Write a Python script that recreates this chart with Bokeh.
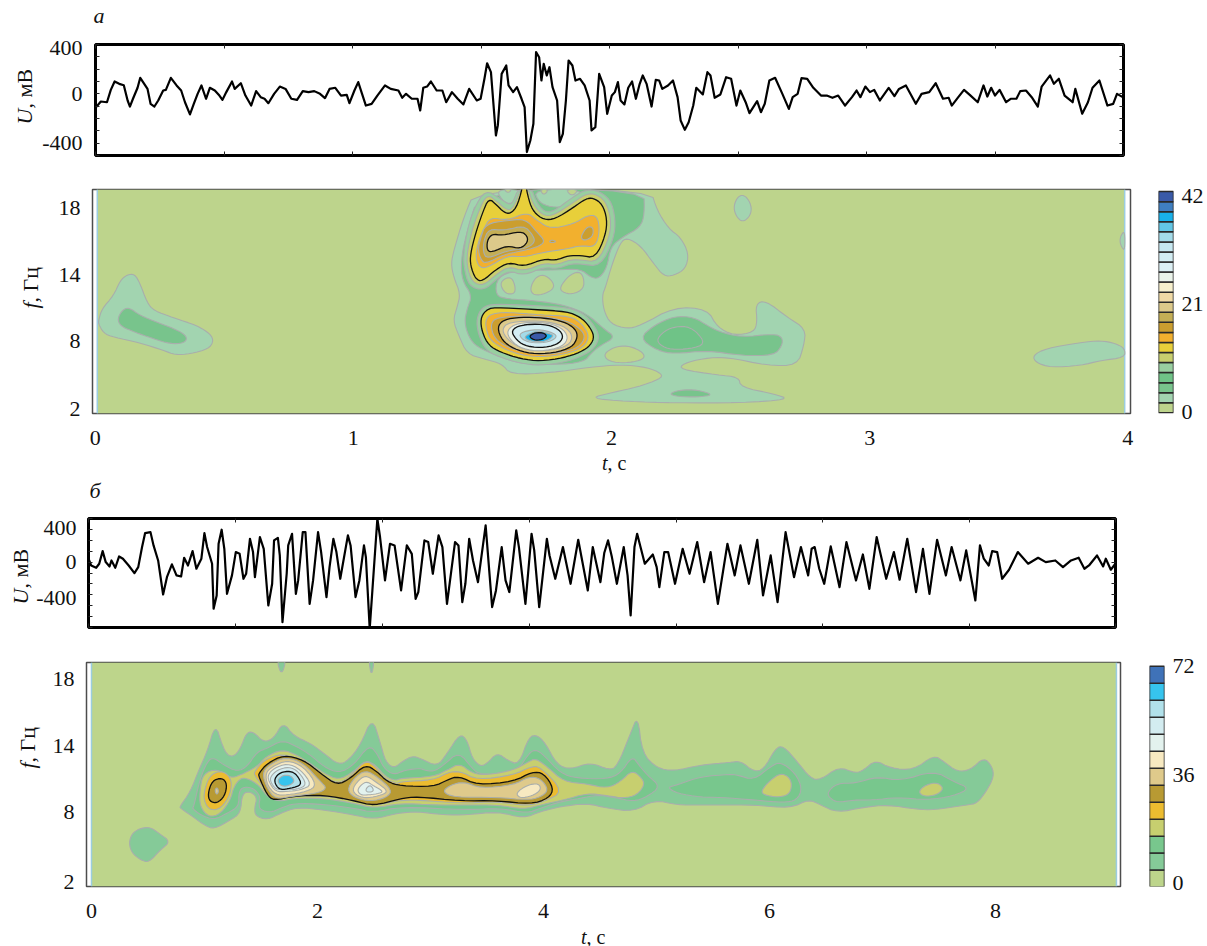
import math
from bokeh.plotting import figure
from bokeh.layouts import column, row
from bokeh.core.properties import value
from bokeh.models import ColumnDataSource, FixedTicker, LinearAxis, Range1d
from bokeh.embed import file_html
from bokeh.resources import INLINE

# ---------- trace a: recording samples (672 per second) and voltage, mV
A_SAMPLE = [0,14,30,40,50,62,74,84,90,98,110,117,130,136,144,154,164,177,184,197,212,224,234,247,257,267,277,289,299,312,324,332,342,357,364,380,392,407,420,432,442,452,467,482,497,512,527,542,557,572,587,600,612,627,642,657,664,677,687,697,707,722,737,757,772,792,802,812,827,842,849,857,867,877,892,907,917,932,947,962,977,997,1007,1017,1024,1034,1047,1052,1062,1074,1080,1092,1102,1114,1122,1128,1137,1145,1152,1160,1166,1172,1180,1187,1195,1207,1214,1222,1230,1237,1247,1255,1267,1279,1292,1297,1307,1317,
1330,1338,1350,1358,1366,1373,1383,1393,1403,1413,1423,1431,1441,1454,1465,1474,1482,1497,1510,1522,1530,1541,1551,1563,1571,1588,1600,1608,1619,1634,1649,1662,1676,1686,1700,1710,1730,1740,1750,1762,1777,1796,1813,1823,1836,1846,1861,1877,1897,1912,1927,1942,1960,1978,1990,2000,2013,2025,2036,2051,2074,2089,2101,2119,2145,2160,2180,2197,2216,2231,2239,2256,2271,2286,2307,2322,2332,2342,2352,2364,2381,2393,2408,2418,2433,2448,2464,2474,2496,2506,2519,2534,2555,2562,2580,2595,2607,2625,2646,2661,2671,2686]
A_MV = [-113,-62,-68,32,100,81,70,-54,-103,-40,49,130,68,40,-81,-103,-54,27,32,130,68,27,-68,-167,-81,0,68,-40,49,27,-14,-49,14,100,40,86,-14,-95,22,-27,-40,-76,0,59,40,-40,-49,22,14,22,0,-35,40,49,-14,-8,-76,27,95,0,-95,-81,-14,68,40,27,-32,0,-40,-40,-135,49,59,100,27,27,-68,14,-40,-86,40,-54,-40,122,248,176,-338,-256,162,230,68,14,54,-40,-108,-472,-378,-243,338,297,108,243,149,216,54,-54,-392,-324,-54,270,230,108,122,68,-54,-297,-270,162,
54,-162,-14,14,95,-54,-86,49,100,-40,81,149,81,-103,113,108,40,68,108,-27,-216,-292,-230,-95,49,-5,176,149,-32,-5,135,122,-95,27,-68,-157,-59,-149,-81,108,130,0,-122,-27,0,127,122,49,-14,-14,-32,-14,-95,-27,27,-27,59,14,32,-54,49,-19,40,68,-81,0,14,86,-40,-32,-95,-27,32,-8,-68,68,-22,49,-14,32,-68,-40,-40,22,27,-27,-103,59,149,81,122,-14,-68,40,-162,-68,49,108,-95,-81,0,-27]
A_RATE = 672

# ---------- trace b: recording samples (295.3 per second) and voltage, mV
B_SAMPLE = [0,7,20,28,37,45,55,60,70,80,90,105,120,130,140,148,162,170,182,195,205,218,230,242,250,260,272,282,295,303,310,323,327,335,340,348,355,362,375,385,395,405,412,422,430,435,448,458,470,480,485,495,500,507,518,522,532,542,548,560,567,578,587,600,608,622,630,640,648,658,678,685,698,708,720,725,735,742,755,762,775,788,800,817,832,845,855,862,878,888,900,915,925,937,945,958,967,977,985,995,1005,1018,1038,1055,1065,1080,1090,1100,1118,1125,1142,1158,1165,1178,1198,1205,1220,1240,1260,1280,1305,1318,1338,
1348,1358,1368,1381,1399,1409,1417,1427,1434,1444,1454,1475,1485,1492,1505,1515,1533,1553,1571,1591,1609,1626,1645,1670,1689,1704,1726,1748,1763,1783,1801,1822,1844,1862,1881,1890,1898,1910,1923,1940,1963,1981,2006,2024,2041,2060,2085,2105,2120,2140,2163,2181,2198,2218,2241,2256,2279,2294,2318,2330,2340,2353,2362,2375,2388,2406,2429,2456,2482,2502,2527,2547,2568,2588,2603,2615,2636,2652,2659,2672,2684]
B_MV = [31,-31,-52,-15,101,0,-40,15,-52,52,31,-31,-101,-46,138,266,275,153,15,-297,-138,-21,-122,-132,40,-31,101,-61,31,266,138,-15,-428,-306,168,297,122,-291,-122,92,76,-153,-107,214,92,-138,230,122,-398,-199,199,223,61,-551,-107,153,260,-291,-168,275,275,-383,-168,275,92,-321,-46,214,92,-153,245,153,-321,-168,153,46,-612,-260,398,230,-168,168,153,-260,153,76,-337,-275,199,184,-107,245,138,-383,-168,184,153,-367,-199,214,15,-184,337,-413,-260,138,-168,-275,291,138,-383,260,107,-413,214,61,-153,138,-199,205,-260,138,-184,
83,199,46,-199,138,-122,-490,138,260,122,-15,70,-46,-230,92,92,-199,122,-107,184,-184,92,-383,168,-122,153,-199,205,-306,61,-367,275,-138,138,-122,122,138,-61,-199,144,-230,184,-168,70,-245,230,-153,92,-162,214,-275,122,-291,205,-122,138,-168,107,-352,153,31,-31,101,92,-153,-70,92,-15,40,0,15,-46,15,40,-61,-31,61,-40,31,-70,-15]
B_RATE = 295.3

# ---------- time-frequency maps: contours as (time bin, frequency bin)
A_BINS_PER_S, A_BINS_PER_HZ = 774, 37.68
B_BINS_PER_S, B_BINS_PER_HZ = 339, 38.07

a_left_1 = [(10,264),(20,299),(55,339),(75,384),(95,401),(118,404),(135,374),(155,319),(175,294),(235,272),(305,249),(345,224),(355,202),(340,179),(285,164),(240,161),(205,174),(135,197),(55,214),(25,226),(10,254)]
a_left_2 = [(67,269),(80,294),(100,304),(135,279),(185,259),(255,232),(277,212),(265,196),(225,194),(175,209),(105,234),(75,249)]
a_main_1 = [(1140,657),(1105,574),(1075,474),(1067,434),(1075,394),(1095,344),(1085,304),(1073,264),(1090,219),(1115,164),(1165,149),(1220,134),(1245,102),(1365,107),(1485,124),(1575,132),(1655,124),(1700,104),(1695,89),(1625,64),(1555,49),(1480,31),(1595,21),(1735,17),(1935,17),(2083,27),(2035,44),(1935,64),(1930,94),(1865,101),(1755,117),(1760,134),(1825,151),(1895,154),(2015,129),(2105,129),(2125,189),(2130,239),(2075,274),(2010,324),(1980,314),(1985,259),(1975,229),(1915,219),(1865,244),(1835,299),(1735,304),(1635,249),(1595,239),(1545,254),(1525,294),(1520,339),(1530,364),(1550,434),(1575,499),(1595,512),(1635,489),(1675,434),(1705,397),(1735,399),(1770,419),(1780,464),(1755,514),(1720,539),(1685,594),(1665,657)]
a_hole_low = [(1525,164),(1555,184),(1595,189),(1635,174),(1650,154),(1625,141),(1575,136),(1535,144)]
a_hole_1 = [(1213,374),(1230,392),(1250,392),(1260,364),(1257,344),(1230,344)]
a_hole_2 = [(1303,359),(1320,394),(1345,402),(1370,384),(1377,362),(1350,344),(1315,339)]
a_hole_3 = [(1393,364),(1420,399),(1450,412),(1465,394),(1465,359),(1430,342),(1400,349)]
a_spot_top = [(1914,609),(1929,639),(1950,639),(1968,609),(1965,579),(1941,558),(1920,579)]
a_spot_right = [(2811,159),(2850,180),(2955,198),(3015,204),(3060,195),(3087,180),(3087,153),(3015,144),(2955,129),(2865,123),(2820,138)]
a_spot_edge = [(3087,534),(3075,519),(3072,501),(3078,483),(3087,474)]
a_main_2 = [(1153,657),(1110,514),(1097,444),(1100,384),(1130,339),(1115,299),(1107,259),(1120,214),(1145,184),(1205,159),(1275,134),(1375,131),(1465,139),(1490,169),(1515,189),(1560,214),(1525,239),(1475,284),(1405,311),(1315,324),(1235,329),(1200,339),(1205,394),(1260,414),(1385,416),(1455,419),(1485,394),(1510,389),(1535,424),(1545,484),(1580,514),(1635,544),(1647,584),(1645,657)]
a_notch_1 = [(1203,657),(1220,624),(1245,612),(1270,634),(1275,657)]
a_notch_1b = [(1225,657),(1238,646),(1250,657)]
a_notch_2 = [(1315,657),(1330,619),(1365,604),(1415,606),(1445,619),(1465,657)]
a_notch_2b = [(1333,657),(1345,639),(1360,657)]
a_notch_2c = [(1410,657),(1430,636),(1450,657)]
a_lobe_2 = [(1632,211),(1675,249),(1735,277),(1795,274),(1835,249),(1870,231),(1935,214),(2035,224),(2060,214),(2060,189),(2035,159),(1935,159),(1835,174),(1735,164),(1685,174)]
a_lobe_3 = [(1683,209),(1715,239),(1765,249),(1800,234),(1830,194),(1785,179),(1725,177),(1695,189)]
a_lobe_low = [(1720,44),(1755,56),(1805,56),(1855,41),(1805,34),(1745,36)]
a_up_4 = [(1170,657),(1215,629),(1245,609),(1257,629),(1267,657),(1310,657),(1317,634),(1330,609),(1350,589),(1375,592),(1425,629),(1463,654),(1500,657),(1545,629),(1560,569),(1555,509),(1515,426),(1455,434),(1425,434),(1385,419),(1345,424),(1285,399),(1242,414),(1207,391),(1165,354),(1120,367),(1105,426),(1105,468),(1115,534),(1135,599)]
a_up_5 = [(1175,644),(1207,619),(1230,599),(1247,596),(1261,619),(1275,657),(1300,657),(1307,629),(1323,599),(1347,578),(1377,581),(1430,616),(1467,641),(1495,646),(1530,624),(1547,569),(1542,514),(1507,439),(1455,446),(1423,446),(1383,431),(1345,436),(1285,412),(1240,426),(1205,404),(1163,368),(1130,379),(1115,426),(1115,466),(1128,529),(1150,594)]
a_up_6 = [(1180,632),(1205,609),(1225,589),(1245,584),(1267,609),(1287,690),(1300,624),(1315,589),(1345,566),(1380,569),(1435,604),(1470,629),(1493,632),(1520,614),(1535,569),(1530,519),(1500,452),(1455,459),(1420,459),(1380,444),(1345,449),(1285,426),(1240,439),(1200,416),(1160,381),(1140,389),(1125,429),(1125,464),(1140,524),(1160,584)]
a_up_7 = [(1165,539),(1185,574),(1235,564),(1295,589),(1325,564),(1365,539),(1435,554),(1475,579),(1505,579),(1513,534),(1500,484),(1455,489),(1415,479),(1345,469),(1285,454),(1235,459),(1175,422),(1150,424),(1140,459),(1150,504)]
a_up_8 = [(1155,509),(1170,554),(1235,564),(1290,569),(1325,529),(1350,501),(1325,484),(1275,472),(1225,462),(1170,434),(1155,449),(1148,479)]
a_up_9 = [(1165,504),(1180,539),(1225,534),(1285,549),(1310,524),(1320,499),(1290,479),(1235,474),(1175,449),(1163,469)]
a_up_10 = [(1175,504),(1190,524),(1220,519),(1275,532),(1295,519),(1297,499),(1275,479),(1235,489),(1190,469),(1175,474)]
a_up_spot = [(1457,519),(1475,546),(1493,544),(1493,519),(1475,506),(1460,506)]
a_up_dot = [(1360,501),(1370,506),(1383,501),(1370,497)]
a_low_4 = [(1143,269),(1160,304),(1195,314),(1315,309),(1420,303),(1465,284),(1493,254),(1513,217),(1497,181),(1460,157),(1407,139),(1335,129),(1273,136),(1207,156),(1170,177),(1148,224)]
a_low_6 = [(1155,269),(1170,294),(1195,304),(1315,297),(1415,291),(1455,274),(1480,249),(1497,217),(1485,189),(1455,169),(1405,152),(1335,142),(1275,149),(1215,169),(1180,189),(1160,229)]
a_low_7 = [(1170,264),(1185,284),(1235,289),(1335,281),(1425,277),(1460,254),(1482,217),(1465,184),(1415,164),(1335,154),(1275,161),(1225,179),(1185,204),(1173,234)]
a_low_8 = [(1185,254),(1205,274),(1315,279),(1415,264),(1455,239),(1470,214),(1450,184),(1405,169),(1335,161),(1275,171),(1225,189),(1195,214)]
a_low_10 = [(1205,244),(1225,267),(1275,274),(1345,272),(1405,261),(1440,239),(1447,214),(1430,184),(1375,166),(1305,164),(1255,179),(1220,204)]
a_low_11 = [(1220,239),(1240,259),(1335,264),(1405,249),(1433,219),(1420,189),(1365,174),(1305,174),(1260,189),(1230,214)]
a_low_13 = [(1233,234),(1265,257),(1345,259),(1397,244),(1420,214),(1400,184),(1335,171),(1280,179),(1245,204)]
a_low_15 = [(1247,234),(1275,251),(1345,254),(1390,239),(1405,214),(1385,191),(1335,181),(1285,189),(1260,209)]
a_low_17 = [(1270,227),(1325,239),(1375,227),(1385,214),(1360,199),(1315,196),(1280,206)]
a_low_19 = [(1287,217),(1325,234),(1365,224),(1375,217),(1350,201),(1315,201),(1293,207)]
a_low_21 = [(1300,217),(1320,228),(1345,227),(1355,217),(1340,206),(1315,205)]

A_CONTOURS = [(1,a_left_1),(2,a_left_2),(1,a_main_1),(0,a_hole_low),(0,a_hole_1),(0,a_hole_2),(0,a_hole_3),(1,a_spot_top),(1,a_spot_right),(1,a_spot_edge),
              (2,a_main_2),(1,a_notch_1),(0,a_notch_1b),(1,a_notch_2),(0,a_notch_2b),(0,a_notch_2c),(2,a_lobe_2),(3,a_lobe_3),(2,a_lobe_low),
              (4,a_up_4),(5,a_up_5),(6,a_up_6),(7,a_up_7),(8,a_up_8),(9,a_up_9),(10,a_up_10),(8,a_up_spot),(8,a_up_dot),
              (4,a_low_4),(6,a_low_6),(7,a_low_7),(8,a_low_8),(10,a_low_10),(11,a_low_11),(13,a_low_13),(15,a_low_15),(17,a_low_17),(19,a_low_19),(21,a_low_21)]
A_OUTLINED = [a_up_6,a_up_10,a_low_6,a_low_10,a_low_15,a_low_21]

b_spot = [(112,116),(122,146),(147,161),(177,164),(202,146),(237,121),(207,96),(172,58),(147,66),(122,86)]
b_spike_1 = [(555,670),(570,618),(585,670)]
b_spike_2 = [(831,670),(840,615),(849,670)]
b_main_1 = [(265,226),(297,271),(322,336),(347,391),(372,475),(392,411),(407,381),(427,376),(447,401),(465,448),(485,451),(517,419),(547,431),(575,480),(607,438),(657,416),(697,386),(742,351),(772,366),(807,411),(842,495),(867,416),(882,361),(907,341),(932,361),(962,378),(987,371),(1037,346),(1067,386),(1105,445),(1127,426),(1142,371),(1167,346),(1187,356),(1217,388),(1247,366),(1282,351),(1312,436),(1337,441),(1362,416),(1397,351),(1437,338),(1497,359),(1552,336),(1577,346),(1617,446),(1639,500),(1652,386),(1697,341),(1747,333),(1827,351),(1917,359),(1947,363),(1987,331),(2017,338),(2052,401),(2075,409),(2117,361),(2157,311),(2187,306),(2242,346),(2292,326),(2317,336),(2352,366),(2397,341),(2467,336),(2527,381),(2557,361),(2597,331),(2637,336),(2677,374),(2702,346),(2707,316),(2687,276),(2657,236),(2627,231),(2527,216),(2477,218),(2387,231),(2317,224),(2237,208),(2187,231),(2152,248),(2097,221),(1987,231),(1887,231),(1827,231),(1757,231),(1687,246),(1627,211),(1547,221),(1487,236),(1407,226),(1347,211),(1297,191),(1217,211),(1127,201),(1057,201),(977,211),(917,206),(847,188),(787,201),(697,216),(617,224),(567,206),(527,186),(492,198),(489,221),(497,254),(477,271),(452,266),(447,206),(417,186),(367,158),(337,171),(297,201),(267,221)]
b_main_2 = [(307,226),(322,296),(342,351),(362,376),(397,351),(437,331),(467,346),(497,391),(527,401),(572,426),(617,406),(657,381),(697,346),(742,326),(787,351),(832,411),(857,386),(877,341),(907,321),(942,336),(987,341),(997,336),(1027,331),(1057,351),(1102,391),(1142,341),(1167,321),(1277,331),(1312,386),(1332,398),(1357,381),(1407,326),(1457,311),(1547,309),(1587,326),(1622,378),(1642,351),(1667,321),(1707,286),(1667,256),(1627,241),(1567,254),(1517,261),(1467,251),(1407,241),(1347,221),(1307,206),(1227,221),(1127,216),(927,226),(847,208),(787,221),(697,233),(607,236),(567,221),(537,208),(507,216),(502,231),(507,256),(487,281),(457,286),(442,271),(442,226),(407,206),(367,186),(327,201),(302,221)]
b_right_2 = [(1727,284),(1757,291),(1827,316),(1917,323),(1937,321),(1987,306),(2037,346),(2067,361),(2112,326),(2132,281),(2117,246),(2077,238),(1987,246),(1887,254),(1827,254),(1757,266)]
b_far_2 = [(2209,271),(2237,296),(2292,296),(2357,316),(2427,303),(2527,334),(2587,301),(2635,281),(2587,258),(2507,246),(2417,254),(2347,246),(2287,246),(2237,238),(2212,254)]
b_main_3 = [(325,276),(335,325),(377,340),(417,311),(447,321),(497,346),(522,376),(572,398),(617,381),(657,356),(697,326),(742,306),(787,331),(822,366),(852,351),(882,316),(912,304),(927,311),(1027,316),(1067,336),(1105,356),(1142,326),(1187,321),(1267,336),(1312,361),(1332,371),(1367,346),(1417,301),(1487,294),(1547,281),(1587,301),(1622,336),(1652,311),(1659,291),(1637,261),(1597,251),(1547,259),(1487,266),(1417,246),(1347,231),(1297,218),(1217,231),(1127,231),(1027,231),(927,236),(847,221),(787,236),(697,251),(607,251),(562,241),(527,256),(502,291),(467,311),(447,311),(427,286),(417,246),(387,204),(352,194),(325,226)]
b_yellow_1 = [(2009,274),(2037,306),(2067,326),(2092,316),(2102,291),(2092,261),(2057,254),(2017,261)]
b_yellow_2 = [(2480,271),(2502,291),(2537,299),(2557,281),(2537,261),(2497,256)]
b_small_4 = [(337,266),(352,316),(382,334),(409,324),(422,296),(412,251),(382,216),(352,218),(339,241)]
b_small_5 = [(349,264),(362,304),(392,313),(407,294),(400,258),(377,236),(355,241)]
b_small_6 = [(370,276),(377,284),(382,271),(375,261)]
b_main_4 = [(489,331),(517,366),(572,386),(647,361),(697,316),(742,294),(782,321),(822,366),(852,346),(877,311),(917,294),(927,301),(1027,306),(1067,328),(1105,333),(1157,306),(1267,321),(1317,346),(1347,346),(1417,271),(1357,241),(1307,228),(1217,241),(1107,236),(977,246),(917,244),(847,228),(787,246),(697,258),(607,258),(567,248),(532,258),(507,296),(489,321)]
b_main_5 = [(502,326),(527,356),(577,381),(637,366),(687,326),(737,290),(777,311),(822,353),(857,331),(887,301),(927,288),(1027,286),(1067,306),(1102,318),(1157,291),(1267,301),(1322,331),(1357,326),(1387,281),(1372,251),(1317,233),(1217,244),(1107,243),(977,256),(927,250),(847,228),(787,244),(697,261),(607,258),(547,244),(527,261),(502,316)]
b_peak1_6 = [(512,326),(532,351),(582,376),(637,356),(687,301),(707,281),(677,266),(607,258),(552,248),(527,281)]
b_peak2_6 = [(767,276),(787,311),(822,336),(857,316),(902,276),(887,254),(837,241),(787,254)]
b_peak3_6 = [(1052,271),(1077,291),(1117,301),(1167,281),(1267,291),(1312,316),(1347,311),(1372,276),(1347,254),(1307,246),(1217,254),(1087,254)]
b_peak1_7 = [(522,326),(542,346),(587,366),(637,346),(677,291),(647,271),(587,261),(552,261),(527,291)]
b_peak2_7 = [(782,276),(797,301),(822,321),(852,301),(890,273),(872,261),(827,251),(797,258)]
b_peak3_7 = [(1272,266),(1307,291),(1342,296),(1349,276),(1322,258),(1287,251)]
b_peak1_8 = [(529,321),(547,341),(587,356),(627,338),(662,291),(627,276),(587,271),(552,271),(532,301)]
b_peak2_8 = [(797,276),(812,294),(827,301),(847,288),(877,271),(857,264),(827,261),(807,261)]
b_peak2_9 = [(822,278),(835,291),(845,281),(845,271),(827,269)]
b_peak1_9 = [(537,316),(557,336),(592,346),(622,331),(647,291),(617,278),(582,276),(552,278),(537,301)]
b_peak1_10 = [(549,311),(567,329),(597,333),(617,321),(632,291),(597,281),(567,276),(552,291)]
b_peak1_11 = [(559,308),(577,321),(597,319),(610,304),(597,291),(577,286),(562,294)]

B_CONTOURS = [(1,b_spot),(1,b_spike_1),(1,b_spike_2),(1,b_main_1),(2,b_main_2),(2,b_right_2),(2,b_far_2),(3,b_main_3),(3,b_yellow_1),(3,b_yellow_2),
              (4,b_small_4),(5,b_small_5),(6,b_small_6),(4,b_main_4),(5,b_main_5),(6,b_peak1_6),(6,b_peak2_6),(6,b_peak3_6),(7,b_peak1_7),(7,b_peak2_7),(7,b_peak3_7),
              (8,b_peak1_8),(8,b_peak2_8),(9,b_peak2_9),(9,b_peak1_9),(10,b_peak1_10),(11,b_peak1_11)]
B_OUTLINED = [b_small_5,b_main_5,b_peak1_10]

# ---------- colour scales
A_COLORS = ["#bdd48c","#a2d4b0","#78c48c","#6fc387","#98cfa0","#c8cf6e","#e8cf3a","#f2b02e","#cb9e2f","#c4ae55","#dcc98a","#f0daa6","#f7f0cd","#eaf3ea","#dbeff4","#d2edf3","#c6e8f1","#a3dbe9","#62c6e5","#18b1ea","#3f7fc1","#3a5aa8"]
B_COLORS = ["#bdd58b","#85ca98","#78c78d","#c7cf6f","#ecbc30","#b89a33","#dfca8b","#f7e9c1","#e3f2ee","#d3ecf0","#b1e1ea","#36c4ee","#3f72b8"]

FONT = "Liberation Serif"
SIZE = "22px"

def blank(fw, fh, bt=0, bb=0):
    # a frame of its own for captions; its ranges count pixels
    p = figure(frame_width=fw, frame_height=fh, min_border_left=0, min_border_right=0, min_border_top=bt, min_border_bottom=bb,
               x_range=Range1d(0, fw), y_range=Range1d(0, fh), toolbar_location=None, output_backend="svg", x_axis_type=None, y_axis_type=None)
    p.grid.visible = False
    p.outline_line_color = None
    return p

def put(p, x, y, text, italic=False, angle=0.0, align="left", size=SIZE):
    p.text(x=[x], y=[y], text=[text], angle=angle, text_align=align, text_baseline="middle", text_font=value(FONT),
           text_font_size=value(size), text_font_style="italic" if italic else "normal", text_color="#111111")

def letter_strip(w, h, x, y, letter):
    p = blank(w, h)
    put(p, x, y, letter, italic=True)
    return p

def t_strip(w, h, x, y):
    p = blank(w, h)
    put(p, x, y, "t", italic=True, align="right", size="20px")
    put(p, x, y, ", с", size="20px")
    return p

def side(fw, fh, bt, bb, x, y, italic_part, rest):
    p = blank(fw, fh, bt, bb)
    put(p, x, y, italic_part, italic=True, angle=math.pi/2, align="right")
    put(p, x, y, rest, angle=math.pi/2)
    return p

def smooth(pts, rounds=2):
    # rounds off the corners of a hand-read contour (corner cutting)
    for _ in range(rounds):
        out = []
        n = len(pts)
        for i in range(n):
            (x0, y0), (x1, y1) = pts[i], pts[(i+1) % n]
            out.append((0.75*x0+0.25*x1, 0.75*y0+0.25*y1))
            out.append((0.25*x0+0.75*x1, 0.25*y0+0.75*y1))
        pts = out
    return pts

def trace_panel(t, u, xmax, xticks, ymin, ymax, mv_ticks, mv_labels, minor, fw, fh, bl, br, bt, bb, standoff):
    p = figure(frame_width=fw, frame_height=fh, min_border_left=bl, min_border_right=br, min_border_top=bt, min_border_bottom=bb,
               x_range=Range1d(0, xmax), y_range=Range1d(ymin, ymax), toolbar_location=None, output_backend="svg",
               x_axis_type=None, y_axis_type=None)
    p.grid.visible = False
    p.outline_line_color = "#000000"
    p.outline_line_width = 3
    p.line(t, u, line_color="#000000", line_width=2.2, line_join="round")
    left = LinearAxis(ticker=FixedTicker(ticks=mv_ticks, minor_ticks=minor), major_label_overrides=dict(zip(mv_ticks, mv_labels)),
                      axis_line_color=None, major_tick_line_color=None, major_tick_in=0, major_tick_out=0, minor_tick_in=4, minor_tick_out=0, minor_tick_line_color="#222",
                      major_label_text_font=FONT, major_label_text_font_size=SIZE, major_label_text_color="#111", major_label_standoff=standoff)
    p.add_layout(left, "left")
    right = LinearAxis(ticker=FixedTicker(ticks=[], minor_ticks=minor), axis_line_color=None, major_tick_in=0, major_tick_out=0, minor_tick_in=4, minor_tick_out=0,
                       minor_tick_line_color="#222", major_label_standoff=0)
    p.add_layout(right, "right")
    for place in ("above", "below"):
        ax = LinearAxis(ticker=FixedTicker(ticks=[], minor_ticks=xticks), axis_line_color=None, major_tick_in=0, major_tick_out=0,
                        minor_tick_in=4, minor_tick_out=0, minor_tick_line_color="#222", major_label_standoff=0)
        p.add_layout(ax, place)
    return p

def map_panel(contours, outlined, colors, bins_t, bins_f, t0, t1, xr, yr, xticks, yticks, ylabels, fw, fh, bl, br, bt, bb):
    p = figure(frame_width=fw, frame_height=fh, min_border_left=bl, min_border_right=br, min_border_top=bt, min_border_bottom=bb,
               x_range=Range1d(*xr), y_range=Range1d(*yr), toolbar_location=None, output_backend="svg", x_axis_type=None, y_axis_type=None)
    p.grid.visible = False
    p.outline_line_color = "#4d4d4d"
    p.outline_line_width = 1.5
    p.quad(left=[t0], right=[t1], bottom=[yr[0]], top=[yr[1]], fill_color=colors[0], line_color=None)
    p.segment(x0=[t0, t1], x1=[t0, t1], y0=[yr[0]]*2, y1=[yr[1]]*2, line_color="#9bcde0", line_width=1.5)
    xs, ys, fills, lines, widths = [], [], [], [], []
    for level, pts in contours:
        black = any(pts is o for o in outlined)
        pts = smooth(pts)
        xs.append([q[0]/bins_t for q in pts])
        ys.append([2 + q[1]/bins_f for q in pts])
        fills.append(colors[level])
        lines.append("#111111" if black else "#a9aeac")
        widths.append(1.3 if black else 1.1)
    src = ColumnDataSource(dict(x=xs, y=ys, fill=fills, line=lines, w=widths))
    p.patches("x", "y", source=src, fill_color="fill", line_color="line", line_width="w")
    left = LinearAxis(ticker=FixedTicker(ticks=yticks), major_label_overrides=dict(zip(yticks, ylabels)), axis_line_color=None, major_tick_line_color=None,
                      major_tick_in=0, major_tick_out=0,
                      major_label_text_font=FONT, major_label_text_font_size=SIZE, major_label_text_color="#111", major_label_standoff=12)
    p.add_layout(left, "left")
    below = LinearAxis(ticker=FixedTicker(ticks=xticks), axis_line_color=None, major_tick_line_color=None, major_tick_in=0, major_tick_out=0,
                       major_label_text_font=FONT, major_label_text_font_size=SIZE, major_label_text_color="#111", major_label_standoff=17)
    p.add_layout(below, "below")
    return p

def colorbar_panel(colors, vmax, yr, ticks, labels, fh, bl, br, bt, bb):
    n = len(colors)
    p = figure(frame_width=15, frame_height=fh, min_border_left=bl, min_border_right=br, min_border_top=bt, min_border_bottom=bb,
               x_range=Range1d(0, 1), y_range=Range1d(*yr), toolbar_location=None, output_backend="svg", x_axis_type=None, y_axis_type=None)
    p.grid.visible = False
    p.outline_line_color = None
    step = vmax / n
    p.quad(left=[0]*n, right=[1]*n, bottom=[i*step for i in range(n)], top=[(i+1)*step for i in range(n)],
           fill_color=colors, line_color="#2a2a2a", line_width=1.5)
    ax = LinearAxis(ticker=FixedTicker(ticks=ticks), major_label_overrides=dict(zip(ticks, labels)), axis_line_color=None, major_tick_line_color=None,
                    major_tick_in=0, major_tick_out=0,
                    major_label_text_font=FONT, major_label_text_font_size=SIZE, major_label_text_color="#111", major_label_standoff=8)
    p.add_layout(ax, "right")
    return p

a_time = [s/A_RATE for s in A_SAMPLE]
b_time = [s/B_RATE for s in B_SAMPLE]

A_TICKS = [0,0.5,1,1.5,2,2.5,3,3.5,4]
B_TICKS = [0,1.3,2.6,3.9,5.2,6.5,7.8,9.09]
A_MINOR = [-500,-400,-300,-200,-100,0,100,200,300,400]
B_MINOR = [-600,-500,-400,-300,-200,-100,0,100,200,300,400]

strip_a = letter_strip(1198, 30, 85, 15, "а")
side_ua = side(30, 111, 14, 20, 16, 47, "U", ", мВ")
trace_a = trace_panel(a_time, A_MV, 4, A_TICKS, -500, 400, [-400,0,370], ["-400","0","400"], A_MINOR, 1028, 111, 57, 83, 14, 20, 13)
side_fa = side(37, 224, 14, 39, 22, 111, "f", ", Гц")
map_a = map_panel(A_CONTOURS, A_OUTLINED, A_COLORS, A_BINS_PER_S, A_BINS_PER_HZ, 0.008, 3.988, (-0.0105, 4.0105), (1.602, 19.44), [0,1,2,3,4],
                  [2,7.41,12.67,18], ["2","8","14","18"], 1038, 224, 47, 10, 14, 39)
bar_a = colorbar_panel(A_COLORS, 42, (-0.13, 42.4), [0.2,20.6,41.2], ["0","21","42"], 224, 18, 33, 14, 39)
t_a = t_strip(1198, 26, 599, 16)

strip_b = letter_strip(1198, 26, 81, 14, "б")
side_ub = side(24, 109, 14, 20, 12, 39, "U", ", мВ")
trace_b = trace_panel(b_time, B_MV, 9.09, B_TICKS, -600, 400, [-333,0,310], ["-400","0","400"], B_MINOR, 1027, 109, 56, 91, 14, 20, 12)
side_fb = side(37, 224, 15, 40, 19, 124, "f", ", Гц")
map_b = map_panel(B_CONTOURS, B_OUTLINED, B_COLORS, B_BINS_PER_S, B_BINS_PER_HZ, 0.0, 9.07, (-0.044, 9.106), (1.63, 19.31), [0,2,4,6,8],
                  [2,7.51,12.72,18], ["2","8","14","18"], 1034, 224, 41, 10, 15, 40)
bar_b = colorbar_panel(B_COLORS, 72, (0.2, 73.2), [1.5,36.6,72], ["0","36","72"], 224, 19, 42, 15, 40)
t_b = t_strip(1198, 20, 578, 10)

page = column(strip_a, row(side_ua, trace_a), row(side_fa, map_a, bar_a), t_a,
              strip_b, row(side_ub, trace_b), row(side_fb, map_b, bar_b), t_b, margin=(0, 0, 0, 8))
open("out.html", "w").write(file_html(page, INLINE))
